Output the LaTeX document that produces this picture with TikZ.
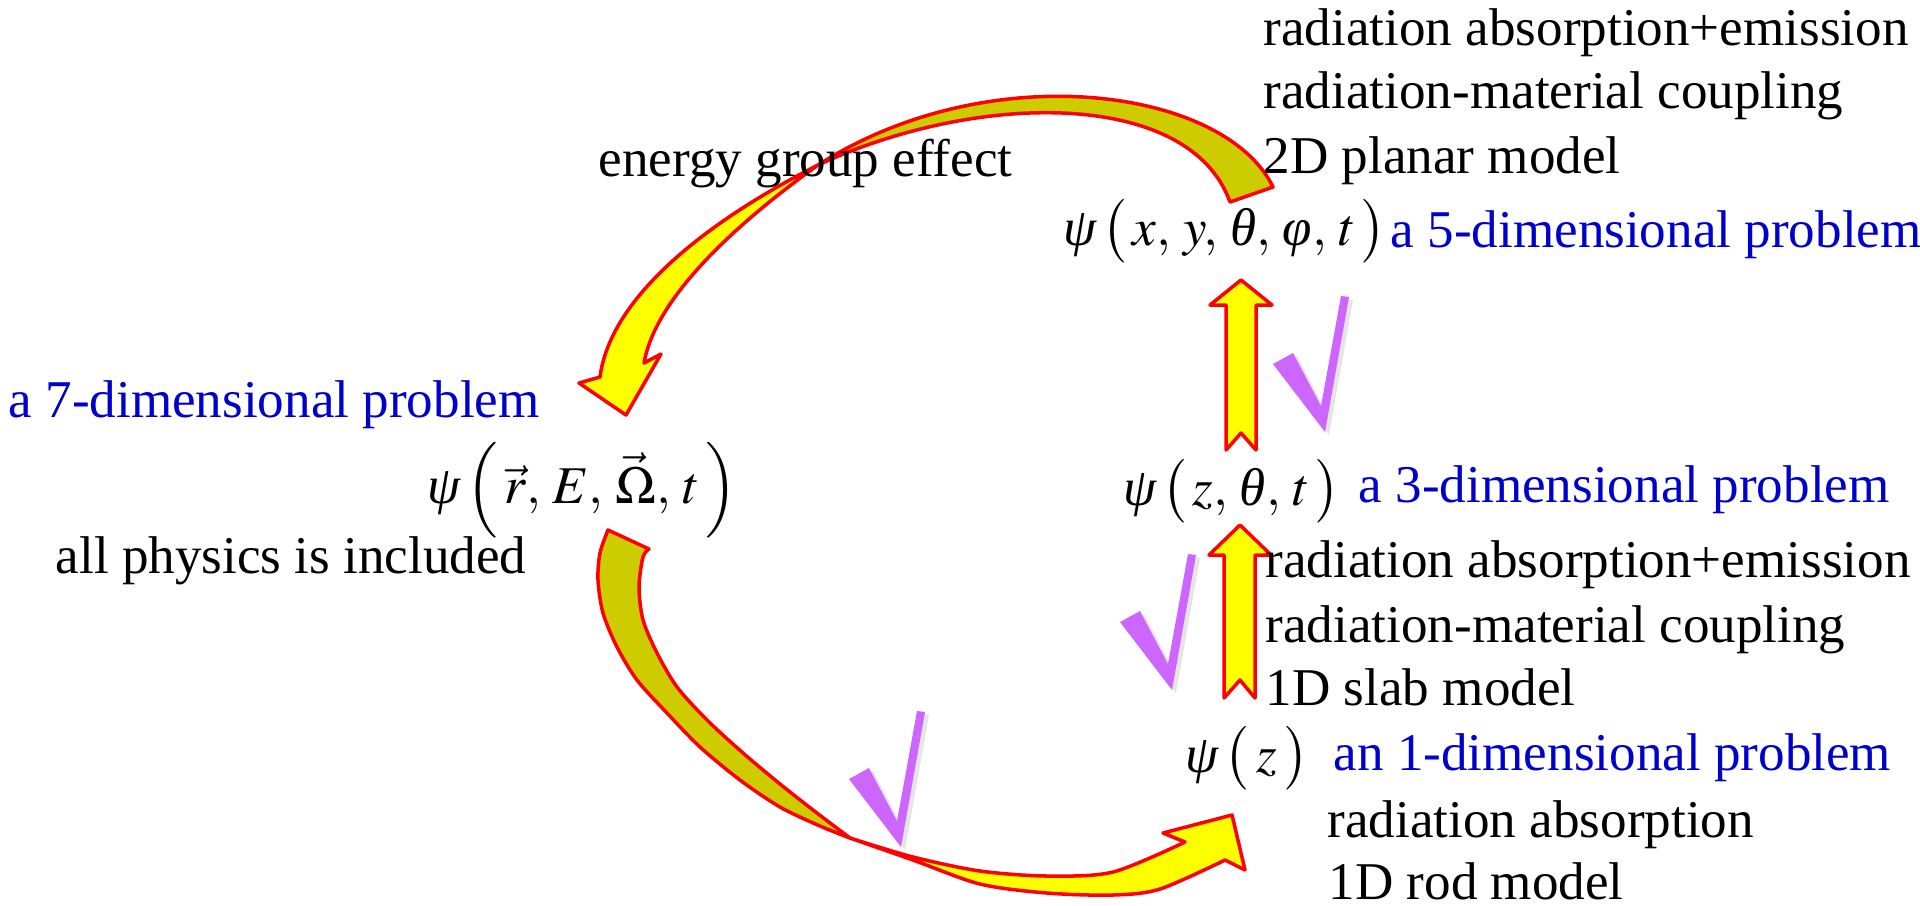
\documentclass[tikz,border=0pt]{standalone}
\usepackage{mathptmx}
\usepackage{fontspec}
\setmainfont{Liberation Serif}
\definecolor{arrowred}{RGB}{255,0,0}
\definecolor{faceyellow}{RGB}{255,255,0}
\definecolor{backolive}{RGB}{204,204,0}
\definecolor{probblue}{RGB}{0,0,204}
\definecolor{tickviolet}{RGB}{204,102,255}
\newcommand{\gpsi}{\mbox{\itshape ψ}}
\newcommand{\gth}{\mbox{\itshape θ}}
\newcommand{\gph}{\mbox{\itshape φ}}
\newcommand{\bigpar}{\rule[-5.2pt]{0pt}{18pt}}

\begin{document}
\begin{tikzpicture}[x=0.01cm,y=-0.01cm,
  txt/.style={anchor=base west,inner sep=0pt,font=\fontsize{15.1pt}{18pt}\selectfont},
  dim/.style={txt,text=probblue},
  front/.style={fill=faceyellow,draw=arrowred,line width=1pt,line join=round},
  back/.style={fill=backolive,draw=arrowred,line width=1pt,line join=round},
  checkmark/.pic={
    \fill[black!20,opacity=.5,shift={(4,3)}] (-52,-68) -- (-32,-79) -- (-4,-26) -- (16,-136) -- (24,-135) -- (0,0) -- cycle;
    \fill[tickviolet] (-52,-68) -- (-32,-79) -- (-4,-26) -- (16,-136) -- (24,-135) -- (0,0) -- cycle;
  }]
\fill[white] (0,0) rectangle (1920,905);
\useasboundingbox (0,0) rectangle (1920,905);

\filldraw[back] (1273,187) .. controls (1225,88) and (990,55) .. (818,165)
  .. controls (980,90) and (1190,90) .. (1230,202) -- cycle;
\filldraw[front] (818,165) .. controls (700,225) and (610,300) .. (600,377) -- (579,383) -- (626,415)
  -- (661,354) -- (644,363) .. controls (655,300) and (730,228) .. (818,165) -- cycle;

\filldraw[back] plot[smooth] coordinates {(608,530) (600,553) (598,580) (603,613) (617,647) (637,680) (667,713) (700,747) (740,780) (780,807) (820,826) (850,838)}
  -- plot[smooth] coordinates {(850,838) (813,810) (780,784) (743,753) (707,720) (677,687) (657,653) (643,620) (639,587) (643,557) (649,549)} -- cycle;
\filldraw[front] plot[smooth] coordinates {(850,838) (913,857) (980,871) (1047,876) (1113,872) (1185,842)}
  -- (1163,833) -- (1232,815) -- (1245,870) -- (1225,860)
  -- plot[smooth] coordinates {(1225,860) (1160,889) (1113,895) (1047,893) (980,884) (913,860) (850,838)} -- cycle;

\filldraw[front] (1241,280) -- (1272,305) -- (1256,305) -- (1256,450) -- (1241,433) -- (1226,450) -- (1226,305) -- (1210,305) -- cycle;
\filldraw[front] (1240,525) -- (1271,555) -- (1255,555) -- (1255,698) -- (1240,680) -- (1224,698) -- (1224,555) -- (1209,555) -- cycle;

\pic at (1325,432) {checkmark};
\pic at (1172,690) {checkmark};
\pic at (901,847) {checkmark};

\node[txt] (a1) at (1263,45) {radiation absorption+emission};
\node[txt] (a2) at (1263,108) {radiation-material coupling};
\node[txt] (a3) at (1263,173) {2D planar model};
\node[txt] (p5) at (1063,245) {$\gpsi\left(\bigpar\,x,\, y,\, \gth,\, \gph,\, t\,\right)$};
\node[dim] (d5) at (1390,247) {a 5-dimensional problem};
\node[txt] (eg) at (598,176) {energy group effect};

\node[dim] (d7) at (8,417) {a 7-dimensional problem};
\node[txt] (p7) at (427,503) {$\gpsi\left(\bigpar\,\vec{r},\, E,\, \vec{\Omega},\, t\,\right)$};
\node[txt] (ap) at (55,573) {all physics is included};

\node[txt] (p3) at (1123,505) {$\gpsi\left(\bigpar\,z,\, \gth,\, t\,\right)$};
\node[dim] (d3) at (1358,502) {a 3-dimensional problem};
\node[txt] (b1) at (1265,577) {radiation absorption+emission};
\node[txt] (b2) at (1265,642) {radiation-material coupling};
\node[txt] (b3) at (1265,705) {1D slab model};

\node[txt] (p1) at (1185,772) {$\gpsi\left(\bigpar\:z\:\right)$};
\node[dim] (d1) at (1333,770) {an 1-dimensional problem};
\node[txt] (c1) at (1327,837) {radiation absorption};
\node[txt] (c2) at (1328,899) {1D rod model};
\end{tikzpicture}
\end{document}
